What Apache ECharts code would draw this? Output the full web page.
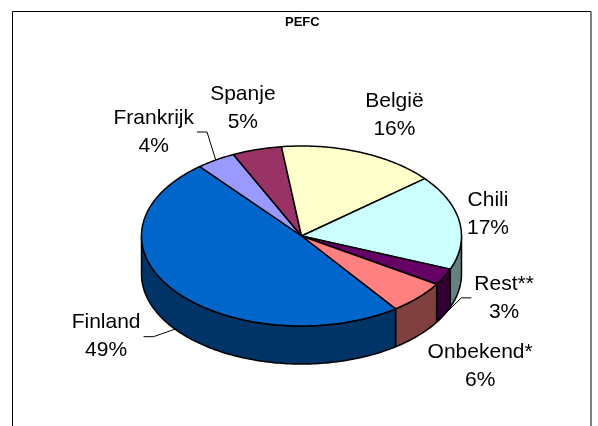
<!DOCTYPE html>
<html>
<head>
<meta charset="utf-8">
<script src="https://cdn.jsdelivr.net/npm/echarts@6/dist/echarts.min.js"></script>
<style>
  html, body { margin: 0; padding: 0; background: #fff; }
  #pefc-pie { width: 598px; height: 426px; }
</style>
</head>
<body>
<div id="pefc-pie"></div>
<script>
const categories = ['Frankrijk', 'Spanje', 'België', 'Chili', 'Rest**', 'Onbekend*', 'Finland']
const shares = [4, 5, 16, 17, 3, 6, 49]
const colorList = ['#9999FF', '#993366', '#FFFFCC', '#CCFFFF', '#660066', '#FF8080', '#0066CC']

// ellipse of the tilted pie + height of the side wall
const pie = { cx: 301.5, cy: 236, rx: 160, ry: 90, depth: 38, startAngle: 230.4 }
// labels were dragged around in the original, shift from the rim point at mid angle
const labelShift = {
  'Frankrijk': [-62, -28],
  'Spanje': [-14, -41],
  'België': [34, -37],
  'Chili': [28.5, -7.5],
  'Rest**': [60, 21],
  'Onbekend*': [62, 69],
  'Finland': [-69, 45.5],
}
const withLeader = ['Frankrijk', 'Rest**', 'Finland']
const fontFamily = '"Liberation Sans", Arial, sans-serif'

const measureCtx = document.createElement('canvas').getContext('2d')
measureCtx.font = '21px ' + fontFamily

function darker(hex) {
  const c = echarts.color.parse(hex)
  return 'rgb(' + Math.round(c[0] / 2) + ',' + Math.round(c[1] / 2) + ',' + Math.round(c[2] / 2) + ')'
}

function arc(a, b, dy) {
  let pts = []
  const steps = Math.max(2, Math.ceil(b - a))
  for (let s = 0; s <= steps; s++) {
    const t = (a + (b - a) * s / steps) * Math.PI / 180
    pts.push([pie.cx + pie.rx * Math.cos(t), pie.cy + pie.ry * Math.sin(t) + dy])
  }
  return pts
}

function renderSlice(params, api) {
  const i = params.dataIndex
  const total = shares.reduce((a, b) => a + b, 0)
  let before = 0
  for (let k = 0; k < i; k++) before += shares[k]
  const a0 = pie.startAngle + before / total * 360
  const a1 = a0 + api.value(0) / total * 360
  const children = []

  // front side walls (screen angles 0..180 face the viewer)
  for (let k = 0; k <= 720; k += 360) {
    const s = Math.max(a0, k)
    const e = Math.min(a1, k + 180)
    if (e > s) {
      children.push({
        type: 'polygon',
        z2: 1,
        shape: { points: arc(s, e, 0).concat(arc(s, e, pie.depth).reverse()) },
        style: { fill: darker(colorList[i]), stroke: '#000', lineWidth: 1.5, lineJoin: 'round' },
      })
    }
  }

  children.push({
    type: 'polygon',
    z2: 2,
    shape: { points: [[pie.cx, pie.cy]].concat(arc(a0, a1, 0)) },
    style: { fill: colorList[i], stroke: '#000', lineWidth: 1.5, lineJoin: 'round' },
  })

  const mid = (a0 + a1) / 2 * Math.PI / 180
  const rimX = pie.cx + pie.rx * Math.cos(mid)
  const rimY = pie.cy + pie.ry * Math.sin(mid)
  const name = categories[i]
  const pct = Math.round(api.value(0) / total * 100) + '%'
  const lx = rimX + labelShift[name][0]
  const ly = rimY + labelShift[name][1]
  children.push({
    type: 'text',
    z2: 5,
    x: lx,
    y: ly,
    style: {
      text: name + '\n' + pct,
      fill: '#000',
      fontSize: 21,
      fontFamily: fontFamily,
      align: 'center',
      verticalAlign: 'middle',
      lineHeight: 28,
    },
  })

  if (withLeader.indexOf(name) > -1) {
    const w = measureCtx.measureText(name).width
    const endY = Math.sin(mid) > 0 ? rimY + pie.depth : rimY
    const dir = lx < rimX ? 1 : -1
    const x0 = lx + dir * (w / 2 + 3)
    children.push({
      type: 'polyline',
      z2: 4,
      shape: { points: [[x0, ly], [x0 + dir * 10, ly], [rimX, endY]] },
      style: { stroke: '#000', lineWidth: 1, fill: null },
    })
  }

  return { type: 'group', children: children }
}

let chartDom = document.getElementById('pefc-pie')
let myChart = echarts.init(chartDom)
let option = {
  animation: false,
  title: {
    text: 'PEFC',
    left: 285,
    top: 16,
    padding: 0,
    textStyle: { fontSize: 13, fontWeight: 'bold', fontFamily: fontFamily, color: '#000' },
  },
  graphic: [
    {
      type: 'rect',
      silent: true,
      shape: { x: 12.5, y: 11.5, width: 578.5, height: 440 },
      style: { fill: null, stroke: '#000', lineWidth: 1 },
    },
  ],
  series: [
    {
      type: 'custom',
      coordinateSystem: 'none',
      silent: true,
      renderItem: renderSlice,
      data: shares.map((v, i) => ({ name: categories[i], value: [v] })),
    },
  ],
}
myChart.setOption(option)
</script>
</body>
</html>
